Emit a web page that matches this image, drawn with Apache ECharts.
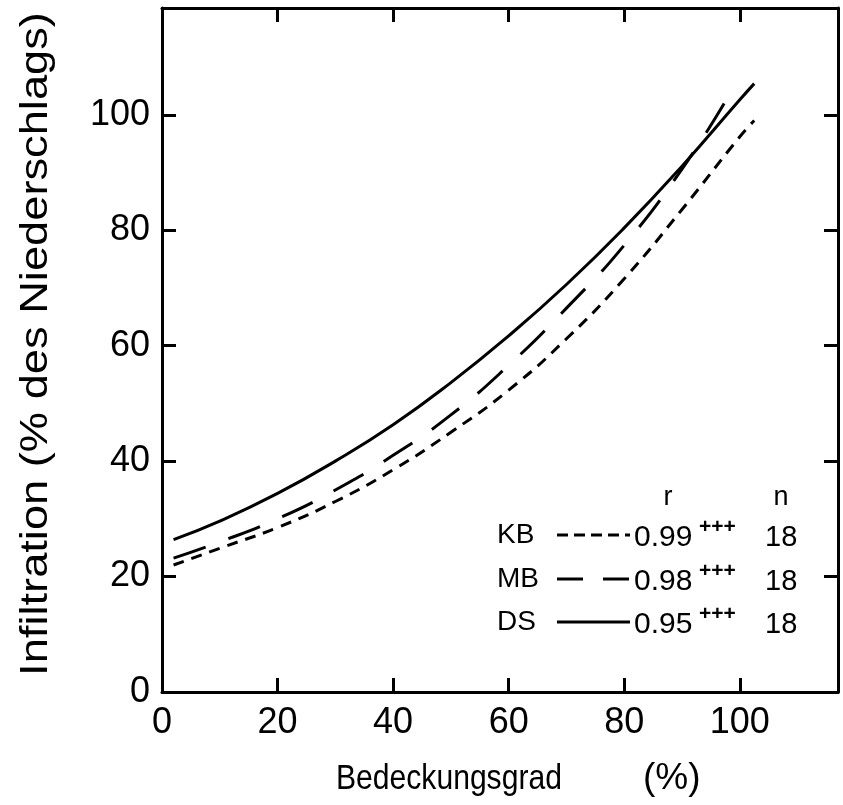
<!DOCTYPE html>
<html>
<head>
<meta charset="utf-8">
<script src="https://cdn.jsdelivr.net/npm/echarts@6/dist/echarts.min.js"></script>
<style>
html,body{margin:0;padding:0;background:#fff;}
#chart{width:843px;height:805px;}
</style>
</head>
<body>
<div id="chart"></div>
<script>
// Data
var xKB = [2, 10, 20, 30, 40, 50, 60, 70, 80, 90, 100, 102.5];
var yKB = [22.0, 24.9, 28.5, 33.0, 38.5, 45.0, 52.3, 61.2, 71.6, 83.6, 96.2, 99.0];
var xMB = [2, 10, 20, 30, 40, 50, 60, 70, 80, 90, 97.8];
var yMB = [23.2, 26.0, 30.0, 35.0, 41.0, 48.0, 56.6, 66.5, 77.4, 90.6, 102.8];
var xDS = [2, 10, 20, 30, 40, 50, 60, 70, 80, 90, 100, 102.5];
var yDS = [26.4, 29.6, 34.4, 40.0, 46.3, 53.6, 61.7, 70.6, 80.4, 91.1, 102.6, 105.4];
var xTicks = [0, 20, 40, 60, 80, 100];
var yTicks = [0, 20, 40, 60, 80, 100];
var legendNames = ['KB', 'MB', 'DS'];
var legendR = ['0.99', '0.98', '0.95'];
var legendSig = ['+++', '+++', '+++'];
var legendN = ['18', '18', '18'];
var xTitleMain = 'Bedeckungsgrad';
var xTitleUnit = '(%)';
var yTitle = 'Infiltration (% des Niederschlags)';

function pairs(xs, ys) { return xs.map(function (x, i) { return [x, ys[i]]; }); }

var FONT = 'Liberation Sans';
var chart = echarts.init(document.getElementById('chart'), null, {renderer: 'canvas'});

var axisCommon = {
  type: 'value', interval: 20,
  axisLine: {show: true, onZero: false, lineStyle: {color: '#000', width: 3}},
  axisTick: {show: true, inside: true, length: 14, lineStyle: {color: '#000', width: 3}},
  splitLine: {show: false}
};
function tickFmt(list) { return function (v) { return list.indexOf(v) >= 0 ? String(v) : ''; }; }

var lineStyles = [
  {color: '#000', width: 3, type: [11, 8]},
  {color: '#000', width: 3, type: [34, 24]},
  {color: '#000', width: 3, type: 'solid'}
];

var option = {
  backgroundColor: '#fff',
  animation: false,
  grid: {left: 162, right: 5, top: 8, bottom: 113, containLabel: false},
  xAxis: [
    Object.assign({}, axisCommon, {min: 0, max: 117, position: 'bottom',
      axisLabel: {show: true, color: '#000', fontFamily: FONT, fontSize: 36, margin: 13, formatter: tickFmt(xTicks)}}),
    Object.assign({}, axisCommon, {min: 0, max: 117, position: 'top', axisLabel: {show: false}})
  ],
  yAxis: [
    Object.assign({}, axisCommon, {min: 0, max: 118.5, position: 'left',
      axisLabel: {show: true, color: '#000', fontFamily: FONT, fontSize: 36, margin: 12, formatter: tickFmt(yTicks)}}),
    Object.assign({}, axisCommon, {min: 0, max: 118.5, position: 'right', axisLabel: {show: false}})
  ],
  series: [
    {name: 'KB', type: 'line', data: pairs(xKB, yKB), smooth: true, symbol: 'none', lineStyle: lineStyles[0]},
    {name: 'MB', type: 'line', data: pairs(xMB, yMB), smooth: true, symbol: 'none', lineStyle: lineStyles[1]},
    {name: 'DS', type: 'line', data: pairs(xDS, yDS), smooth: true, symbol: 'none', lineStyle: lineStyles[2]}
  ],
  graphic: []
};

// Axis titles
option.graphic.push({type: 'text', x: 336, y: 779, scaleX: 0.86,
  style: {text: xTitleMain, font: '35px ' + FONT, fill: '#000', align: 'left', verticalAlign: 'middle'}});
option.graphic.push({type: 'text', x: 643, y: 779,
  style: {text: xTitleUnit, font: '37px ' + FONT, fill: '#000', align: 'left', verticalAlign: 'middle'}});
option.graphic.push({type: 'text', x: 36, y: 344, rotation: Math.PI / 2, scaleX: 1.16,
  style: {text: yTitle, font: '39px ' + FONT, fill: '#000', align: 'center', verticalAlign: 'middle'}});

// Legend block (r, n header and three rows)
var legendRowY = [535, 579, 622];
option.graphic.push({type: 'text', x: 668, y: 498, style: {text: 'r', font: '27px ' + FONT, fill: '#000', align: 'center', verticalAlign: 'middle'}});
option.graphic.push({type: 'text', x: 781, y: 498, style: {text: 'n', font: '27px ' + FONT, fill: '#000', align: 'center', verticalAlign: 'middle'}});
legendNames.forEach(function (nm, i) {
  var y = legendRowY[i];
  option.graphic.push({type: 'text', x: 497, y: y, style: {text: nm, font: '28px ' + FONT, fill: '#000', align: 'left', verticalAlign: 'middle'}});
  option.graphic.push({type: 'line', shape: {x1: 557, y1: y, x2: 630, y2: y},
    style: {stroke: '#000', lineWidth: 3, lineDash: lineStyles[i].type === 'solid' ? null : (i === 0 ? [11, 6] : [26, 20])}});
  option.graphic.push({type: 'text', x: 634, y: y + 3, style: {text: legendR[i], font: '30px ' + FONT, fill: '#000', align: 'left', verticalAlign: 'middle'}});
  option.graphic.push({type: 'text', x: 699, y: y - 8, style: {text: legendSig[i], font: 'bold 21px ' + FONT, fill: '#000', align: 'left', verticalAlign: 'middle'}});
  option.graphic.push({type: 'text', x: 765, y: y + 3, style: {text: legendN[i], font: '29px ' + FONT, fill: '#000', align: 'left', verticalAlign: 'middle'}});
});

chart.setOption(option);
</script>
</body>
</html>
